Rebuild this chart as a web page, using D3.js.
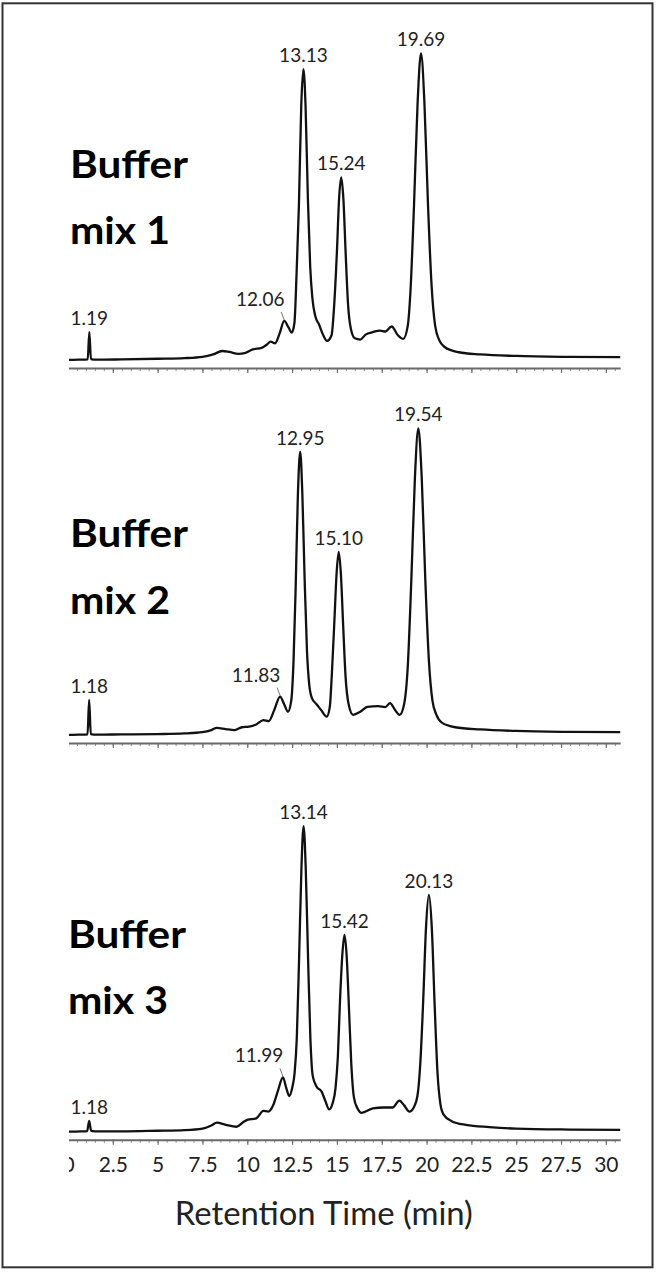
<!DOCTYPE html>
<html>
<head>
<meta charset="utf-8">
<script src="https://cdn.jsdelivr.net/npm/d3@7"></script>
<style>
  html, body { margin: 0; padding: 0; background: #fff; }
  svg { display: block; font-family: Lato, "Open Sans", sans-serif; }
</style>
</head>
<body>
<svg id="chart" width="657" height="1272"></svg>
<script>
// chromatogram traces: [retention time (min), signal (% of panel scale)]
const trace1 = [
  [0, 0], [0.6, 0.1], [1.10, 0.2], [1.19, 9.1], [1.28, 0.3], [1.6, 0.1], [3, 0.2], [5, 0.4],
  [6.5, 0.6], [7.5, 1.0], [8.1, 1.8], [8.6, 2.9], [9.0, 2.6], [9.5, 2.0], [9.9, 2.3], [10.3, 3.4],
  [10.8, 3.9], [11.1, 5.0], [11.3, 5.9], [11.55, 5.4], [11.8, 8.5], [12.06, 12.6], [12.3, 10.5],
  [12.48, 8.8], [12.63, 12], [12.75, 28], [12.88, 50], [13.01, 82], [13.13, 93.8], [13.25, 82],
  [13.38, 52], [13.51, 30], [13.63, 20], [13.8, 14], [14.0, 11.5], [14.2, 8.5], [14.45, 6.2],
  [14.7, 8], [14.85, 18], [15.0, 35], [15.12, 52], [15.24, 58.9], [15.36, 52], [15.49, 34],
  [15.62, 18], [15.78, 10], [16.0, 7.0], [16.3, 6.6], [16.6, 8.2], [17.0, 9.0], [17.4, 9.5],
  [17.7, 9.2], [18.05, 10.8], [18.4, 8.0], [18.7, 6.8], [18.95, 11], [19.1, 22], [19.3, 50],
  [19.5, 83], [19.69, 98.9], [19.88, 83], [20.08, 50], [20.28, 24], [20.48, 11], [20.7, 6.5],
  [21.0, 4.2], [21.8, 2.5], [23.0, 1.8], [25.0, 1.3], [28.0, 1.0], [30.8, 0.9]
];
const trace2 = [
  [0, 0], [0.6, 0.1], [1.09, 0.2], [1.18, 11.3], [1.27, 0.3], [1.6, 0.1], [3, 0.2], [5, 0.3],
  [6.5, 0.5], [7.5, 0.9], [8.0, 1.6], [8.3, 2.3], [8.8, 1.9], [9.3, 1.6], [9.7, 2.5], [10.1, 2.7],
  [10.5, 3.4], [10.9, 4.8], [11.2, 4.5], [11.5, 8], [11.83, 12.4], [12.05, 10], [12.27, 7.5],
  [12.45, 11], [12.58, 24], [12.7, 48], [12.82, 77], [12.95, 91.4], [13.07, 78], [13.2, 50],
  [13.33, 27], [13.46, 16], [13.6, 12], [13.85, 10], [14.1, 8.2], [14.43, 5.9], [14.6, 9],
  [14.72, 20], [14.86, 37], [14.98, 52], [15.10, 59.1], [15.22, 52], [15.35, 35], [15.48, 19],
  [15.65, 10], [15.9, 6.5], [16.3, 7.5], [16.7, 9.1], [17.3, 9.3], [17.7, 9.0], [17.96, 10.3],
  [18.25, 8.0], [18.5, 6.5], [18.75, 10], [18.95, 22], [19.15, 50], [19.35, 83], [19.54, 98.9],
  [19.73, 83], [19.93, 50], [20.13, 24], [20.33, 11], [20.55, 6.5], [20.85, 4], [21.6, 2.5],
  [23, 1.8], [25, 1.3], [28, 1.0], [30.8, 0.9]
];
const trace3 = [
  [0, 0], [0.7, 0.1], [1.07, 0.2], [1.18, 3.5], [1.29, 0.3], [1.7, 0.1], [3, 0.1], [5, 0.3],
  [6.5, 0.5], [7.5, 1.0], [8.0, 2.0], [8.3, 2.9], [8.8, 2.2], [9.4, 1.6], [9.75, 3.0], [10.0, 3.8],
  [10.5, 4.3], [10.9, 6.7], [11.17, 6.5], [11.45, 8.6], [11.7, 13], [11.99, 17.5], [12.18, 14],
  [12.34, 11.5], [12.5, 14], [12.64, 19], [12.76, 30], [12.89, 56], [13.02, 85], [13.14, 98.6],
  [13.26, 85], [13.39, 56], [13.52, 30], [13.65, 18], [13.87, 14.5], [14.15, 12.9], [14.35, 10],
  [14.57, 7.2], [14.75, 9], [14.92, 14], [15.05, 24], [15.17, 42], [15.3, 57], [15.42, 63.5],
  [15.54, 57], [15.67, 40], [15.8, 22], [15.95, 11], [16.15, 7.5], [16.38, 6.1], [17.0, 7.5],
  [17.6, 7.8], [18.1, 7.8], [18.48, 10], [18.75, 8.5], [19.04, 6.5], [19.3, 8], [19.49, 11.5],
  [19.65, 22], [19.81, 42], [19.97, 66], [20.13, 76.4], [20.29, 66], [20.45, 41], [20.61, 19],
  [20.77, 9], [20.95, 5.5], [21.4, 3.4], [22.2, 2.2], [23.5, 1.5], [25, 1.0], [28, 0.7], [30.8, 0.6]
];

// labelled peaks (retention times)
const peaks1 = [1.19, 12.06, 13.13, 15.24, 19.69];
const peaks2 = [1.18, 11.83, 12.95, 15.10, 19.54];
const peaks3 = [1.18, 11.99, 13.14, 15.42, 20.13];
const leaderPeaks = [12.06, 11.83, 11.99];

const panelNames = [["Buffer", "mix 1"], ["Buffer", "mix 2"], ["Buffer", "mix 3"]];
const tickValues = [0, 2.5, 5, 7.5, 10, 12.5, 15, 17.5, 20, 22.5, 25, 27.5, 30];
const tickLabels = ["0", "2.5", "5", "7.5", "10", "12.5", "15", "17.5", "20", "22.5", "25", "27.5", "30"];
const xTitle = "Retention Time (min)";


const svg = d3.select("#chart");

// outer frame
svg.append("rect")
  .attr("x", 2.5).attr("y", 3.3)
  .attr("width", 650).attr("height", 1264)
  .attr("fill", "none")
  .attr("stroke", "#333")
  .attr("stroke-width", 2);

svg.append("defs").append("clipPath")
  .attr("id", "plotclip")
  .append("rect")
  .attr("x", 69).attr("y", 0)
  .attr("width", 570).attr("height", 1272);

const x = d3.scaleLinear().domain([0, 30.8]).range([68, 620.2]);

const panels = [
  { trace: trace1, peaks: peaks1, name: panelNames[0], base: 360, textX: 70, nameY: [177.7, 243.5] },
  { trace: trace2, peaks: peaks2, name: panelNames[1], base: 735, textX: 70, nameY: [547, 613.5] },
  { trace: trace3, peaks: peaks3, name: panelNames[2], base: 1131.7, textX: 68, nameY: [948.3, 1014] }
];

panels.forEach((p, i) => {
  const y = d3.scaleLinear().domain([0, 100]).range([p.base, p.base - 310]);
  const g = svg.append("g").attr("clip-path", "url(#plotclip)");
  const axisY = p.base + 8;
  const last = i === panels.length - 1;

  // minor ticks every 0.5 min
  const minor = g.append("g")
    .attr("transform", `translate(0,${axisY})`)
    .call(d3.axisBottom(x).ticks(60).tickSize(3).tickSizeOuter(0).tickFormat(""));
  minor.select(".domain").remove();
  minor.selectAll(".tick line").attr("stroke", "#8a8a8a").attr("stroke-width", 1);

  // major ticks
  const major = g.append("g")
    .attr("transform", `translate(0,${axisY})`)
    .call(d3.axisBottom(x)
      .tickValues(tickValues)
      .tickSize(5)
      .tickSizeOuter(0)
      .tickPadding(12)
      .tickFormat((d, k) => last ? tickLabels[k] : ""));
  major.select(".domain").attr("stroke", "#6a6a6a").attr("stroke-width", 2);
  major.selectAll(".tick line").attr("stroke", "#6a6a6a").attr("stroke-width", 1.2);
  major.selectAll(".tick text")
    .attr("font-size", 21)
    .attr("font-family", "Lato, sans-serif")
    .attr("fill", "#222");

  // trace
  const line = d3.line()
    .x(d => x(d[0]))
    .y(d => y(d[1]))
    .curve(d3.curveMonotoneX);

  g.append("path")
    .datum(p.trace)
    .attr("d", line)
    .attr("fill", "none")
    .attr("stroke", "#111")
    .attr("stroke-width", 2.3)
    .attr("stroke-linejoin", "round");

  // peak labels
  p.peaks.forEach(t => {
    const pt = p.trace.find(d => d[0] === t);
    const px = x(t), py = y(pt[1]);
    const lead = leaderPeaks.includes(t);
    const lx = lead ? px - 24 : px;
    const ly = lead ? py - 15 : py - 7;
    svg.append("text")
      .attr("x", lx).attr("y", ly)
      .attr("text-anchor", "middle")
      .attr("font-size", 19)
      .attr("fill", "#222")
      .text(t.toFixed(2));
    if (lead) {
      svg.append("line")
        .attr("x1", px - 3).attr("y1", py - 9)
        .attr("x2", px).attr("y2", py - 1)
        .attr("stroke", "#777")
        .attr("stroke-width", 1);
    }
  });

  // panel name
  p.name.forEach((s, k) => {
    svg.append("text")
      .attr("x", p.textX).attr("y", p.nameY[k])
      .attr("font-size", 38)
      .attr("font-weight", 700)
      .attr("fill", "#000")
      .attr("textLength", k === 0 ? 118 : 100)
      .attr("lengthAdjust", "spacingAndGlyphs")
      .text(s);
  });
});

svg.append("text")
  .attr("x", 323.8).attr("y", 1225)
  .attr("text-anchor", "middle")
  .attr("font-size", 32)
  .attr("fill", "#222")
  .attr("textLength", 298)
  .attr("lengthAdjust", "spacingAndGlyphs")
  .text(xTitle);
</script>
</body>
</html>
